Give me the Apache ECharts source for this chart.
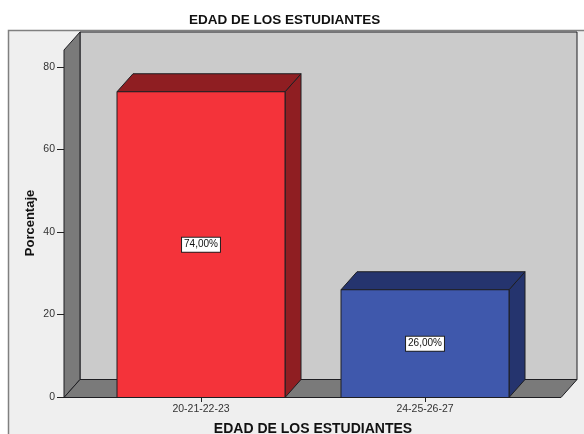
<!DOCTYPE html>
<html>
<head>
<meta charset="utf-8">
<title>EDAD DE LOS ESTUDIANTES</title>
<script src="https://cdn.jsdelivr.net/npm/echarts@6/dist/echarts.min.js"></script>
<style>
  html, body { margin: 0; padding: 0; background: #ffffff; }
  #chart { width: 584px; height: 434px; }
</style>
</head>
<body>
<div id="chart"></div>
<script>
const categories = ['20-21-22-23', '24-25-26-27'];
const percentages = [74, 26];
const percentLabels = ['74,00%', '26,00%'];
const yTicks = [0, 20, 40, 60, 80];

const FONT = '"Liberation Sans", Arial, sans-serif';
const WALL = '#cbcbcb';
const SHADE = '#7a7a7a';
const EDGE = '#1e1e22';
const BAR_COLORS = [
    { front: '#f4333a', dark: '#8f1e22' },
    { front: '#3f58ac', dark: '#25346e' }
];

// 3D look: depth offset of the box, and how far the floor runs past the grid
const DX = 16, DY = 18;
const FLOOR_PAD_L = 25, FLOOR_PAD_R = 24, WALL_PAD_TOP = 17;

function poly(points, fill, z2) {
    return {
        type: 'polygon',
        z2: z2 || 0,
        shape: { points: points },
        style: { fill: fill, stroke: EDGE, lineWidth: 1 }
    };
}

function renderRoom(params, api) {
    const cs = params.coordSys;
    const l = cs.x - FLOOR_PAD_L;
    const r = cs.x + cs.width + FLOOR_PAD_R;
    const b = cs.y + cs.height + 0.5;
    const t = cs.y - WALL_PAD_TOP;
    return {
        type: 'group',
        children: [
            poly([[l + DX, t - DY], [r + DX, t - DY], [r + DX, b - DY], [l + DX, b - DY]], WALL),
            poly([[l, t], [l + DX, t - DY], [l + DX, b - DY], [l, b]], SHADE),
            poly([[l, b], [l + DX, b - DY], [r + DX, b - DY], [r, b]], SHADE)
        ]
    };
}

function renderBar(params, api) {
    const i = api.value(0);
    const top = api.coord([i, api.value(1)]);
    const base = api.coord([i, 0]);
    const w = api.size([1, 0])[0] * 0.75;
    const x0 = top[0] - w / 2, x1 = top[0] + w / 2;
    const y0 = top[1], y1 = base[1] + 0.5;
    const c = BAR_COLORS[params.dataIndex];
    return {
        type: 'group',
        children: [
            poly([[x1, y0], [x1 + DX, y0 - DY], [x1 + DX, y1 - DY], [x1, y1]], c.dark),
            poly([[x0, y0], [x0 + DX, y0 - DY], [x1 + DX, y0 - DY], [x1, y0]], c.dark),
            poly([[x0, y0], [x1, y0], [x1, y1], [x0, y1]], c.front),
            {
                type: 'text',
                z2: 5,
                style: {
                    text: percentLabels[params.dataIndex],
                    x: top[0],
                    y: (y0 + y1) / 2,
                    align: 'center',
                    verticalAlign: 'middle',
                    font: '10px ' + FONT,
                    fill: '#111111',
                    backgroundColor: '#ffffff',
                    borderColor: '#222222',
                    borderWidth: 1,
                    padding: [2, 2, 2, 2]
                }
            }
        ]
    };
}

const chart = echarts.init(document.getElementById('chart'), null, { renderer: 'canvas' });
chart.setOption({
    animation: false,
    backgroundColor: '#ffffff',
    title: {
        text: 'EDAD DE LOS ESTUDIANTES',
        left: 189,
        top: 13,
        padding: 0,
        textStyle: { fontFamily: FONT, fontSize: 13.5, fontWeight: 'bold', color: '#111111' }
    },
    graphic: [{
        type: 'rect',
        z: -1,
        shape: { x: 8.5, y: 30.5, width: 600, height: 430 },
        style: { fill: '#efefef', stroke: '#808080', lineWidth: 1.5 },
        silent: true
    }],
    grid: { left: 89, top: 67, width: 448, height: 330, outerBoundsMode: 'none' },
    xAxis: {
        type: 'category',
        data: categories,
        name: 'EDAD DE LOS ESTUDIANTES',
        nameLocation: 'middle',
        nameGap: 25,
        nameTextStyle: { fontFamily: FONT, fontSize: 14, fontWeight: 'bold', color: '#111111' },
        axisLine: { show: false },
        axisTick: { show: true, alignWithLabel: true, length: 5, lineStyle: { color: '#222222' } },
        axisLabel: { fontFamily: FONT, fontSize: 10.5, color: '#333333', margin: 7 }
    },
    yAxis: {
        type: 'value',
        min: 0,
        max: 80,
        interval: 20,
        offset: 25,
        name: 'Porcentaje',
        nameLocation: 'middle',
        nameGap: 27,
        nameMoveOverlap: false,
        nameTextStyle: { fontFamily: FONT, fontSize: 13, fontWeight: 'bold', color: '#111111', padding: [0, 0, 0, 18] },
        axisLine: { show: false },
        axisTick: { show: true, length: 7, lineStyle: { color: '#222222' } },
        axisLabel: {
            fontFamily: FONT, fontSize: 10.5, color: '#333333', margin: 9,
            formatter: v => yTicks.includes(v) ? String(v) : ''
        },
        splitLine: { show: false }
    },
    series: [
        {
            type: 'custom',
            name: 'room',
            silent: true,
            z: 1,
            renderItem: renderRoom,
            data: [[0, 0]]
        },
        {
            type: 'custom',
            name: 'Porcentaje',
            silent: true,
            z: 2,
            renderItem: renderBar,
            encode: { x: 0, y: 1 },
            data: percentages.map((v, i) => [i, v])
        }
    ]
});
</script>
</body>
</html>
